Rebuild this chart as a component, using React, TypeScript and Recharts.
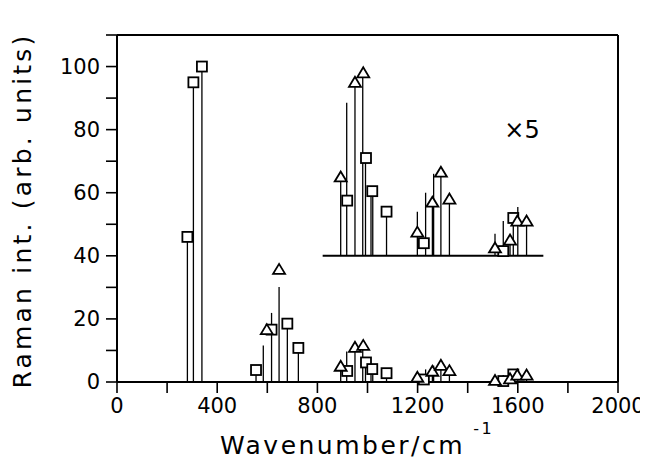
import {
  ComposedChart,
  Scatter,
  XAxis,
  YAxis,
  ReferenceLine,
  ReferenceDot,
  Label,
} from 'recharts';

// observed bands (wavenumber, intensity)
const squareX = [281, 305, 339, 555, 617, 680, 724, 919, 994, 1019, 1076, 1225, 1542, 1582];
const squareY = [46, 95, 100, 3.8, 16.6, 18.5, 10.8, 3.5, 6.2, 4.1, 2.8, 0.8, 0.3, 2.4];
const triangleX = [598, 647, 893, 950, 983, 1199, 1259, 1293, 1327, 1509, 1569, 1598, 1635];
const triangleY = [16.6, 35.7, 5.0, 11.0, 11.6, 1.5, 3.4, 5.3, 3.6, 0.5, 1.0, 2.2, 2.2];

// stick spectrum
const stickX = [281, 305, 339, 555, 584, 617, 647, 680, 724, 893, 917, 950, 981, 992, 1014, 1021, 1076, 1199, 1232, 1259, 1264, 1293, 1327, 1509, 1542, 1569, 1582, 1600, 1635];
const stickH = [46, 95, 100, 3.8, 11.6, 21.9, 30.1, 18.5, 10.8, 5.0, 9.7, 11.0, 11.3, 6.2, 4.1, 4.4, 2.8, 2.8, 4.0, 3.4, 5.2, 5.3, 3.6, 1.4, 2.2, 1.0, 2.4, 3.1, 2.2];

const xTicks = [0, 200, 400, 600, 800, 1000, 1200, 1400, 1600, 1800, 2000];
const xTickLabels = ['0', '400', '800', '1200', '1600', '2000'];
const yTicks = [0, 10, 20, 30, 40, 50, 60, 70, 80, 90, 100, 110];
const yTickLabels = ['0', '20', '40', '60', '80', '100'];

// x5 inset
const insetStart = 821;
const insetEnd = 1702;
const insetBase = 40;
const insetScale = 5;
const insetFrom = 850;

const FONT = 'DejaVu Sans';

function withInset(xs: number[], ys: number[]) {
  const out: { x: number; y: number }[] = [];
  xs.forEach((x, i) => {
    out.push({ x, y: ys[i] });
    if (x >= insetFrom) out.push({ x, y: insetBase + insetScale * ys[i] });
  });
  return out;
}

const squares = withInset(squareX, squareY);
const triangles = withInset(triangleX, triangleY);
const sticks: { x: number; y0: number; y1: number }[] = [];
stickX.forEach((x, i) => {
  sticks.push({ x, y0: 0, y1: stickH[i] });
  if (x >= insetFrom) sticks.push({ x, y0: insetBase, y1: insetBase + insetScale * stickH[i] });
});

const Square = (p: any) => (
  <rect x={p.cx - 5} y={p.cy - 5} width={10} height={10} fill="#fff" stroke="#000" strokeWidth={1.8} />
);

const Triangle = (p: any) => (
  <polygon
    points={`${p.cx - 6},${p.cy + 4.5} ${p.cx + 6},${p.cy + 4.5} ${p.cx},${p.cy - 5.5}`}
    fill="#fff"
    stroke="#000"
    strokeWidth={1.8}
  />
);

export default function App() {
  return (
    <div style={{ width: 640, height: 460 }}>
      <ComposedChart width={640} height={460} margin={{ top: 27, right: 30, bottom: 0, left: 0 }}>
        <XAxis
          type="number"
          dataKey="x"
          domain={[0, 2000]}
          ticks={xTicks}
          tickFormatter={(v: number) => (xTickLabels.includes(String(v)) ? String(v) : '')}
          height={86}
          tickSize={11}
          tickMargin={5}
          axisLine={{ stroke: '#000', strokeWidth: 2 }}
          tickLine={{ stroke: '#000', strokeWidth: 1.6 }}
          tick={{ fill: '#000', fontSize: 21, fontFamily: FONT }}
        >
          <Label
            content={({ viewBox }: any) => {
              const vb = viewBox || { x: 109, y: 374, width: 501, height: 86 };
              return (
                <text
                  x={vb.x + 240}
                  y={vb.y + 72}
                  textAnchor="middle"
                  fontFamily={FONT}
                  fontSize={25}
                  letterSpacing={2.5}
                  fill="#000"
                >
                  Wavenumber/cm
                  <tspan dy={-20} dx={8} fontSize={16}>-1</tspan>
                </text>
              );
            }}
          />
        </XAxis>
        <YAxis
          type="number"
          dataKey="y"
          domain={[0, 110]}
          ticks={yTicks}
          tickFormatter={(v: number) => (yTickLabels.includes(String(v)) ? String(v) : '')}
          width={109}
          tickSize={11}
          tickMargin={6}
          axisLine={{ stroke: '#000', strokeWidth: 2 }}
          tickLine={{ stroke: '#000', strokeWidth: 1.6 }}
          tick={{ fill: '#000', fontSize: 21, fontFamily: FONT }}
        >
          <Label
            content={({ viewBox }: any) => {
              const vb = viewBox || { x: 0, y: 27, width: 109, height: 347 };
              const cx = 14;
              const cy = vb.y + vb.height / 2 + 2;
              return (
                <text
                  x={cx}
                  y={cy}
                  transform={`rotate(-90, ${cx}, ${cy})`}
                  textAnchor="middle"
                  dominantBaseline="central"
                  fontFamily={FONT}
                  fontSize={25}
                  letterSpacing={3.2}
                  fill="#000"
                >
                  Raman int. (arb. units)
                </text>
              );
            }}
          />
        </YAxis>
        <ReferenceLine y={110} stroke="#000" strokeWidth={2} />
        <ReferenceLine x={2000} stroke="#000" strokeWidth={2} />
        <ReferenceLine
          segment={[{ x: insetStart, y: insetBase }, { x: insetEnd, y: insetBase }]}
          stroke="#000"
          strokeWidth={2}
        />
        {sticks.map((s, i) => (
          <ReferenceLine
            key={`stick-${i}`}
            segment={[{ x: s.x, y: s.y0 }, { x: s.x, y: s.y1 }]}
            stroke="#000"
            strokeWidth={1.3}
          />
        ))}
        <Scatter data={squares} shape={Square} isAnimationActive={false} />
        <Scatter data={triangles} shape={Triangle} isAnimationActive={false} />
        <ReferenceDot
          x={1617}
          y={80}
          r={0}
          stroke="none"
          label={{ value: '×5', position: 'center', fontSize: 24, fontFamily: FONT, fill: '#000' }}
        />
      </ComposedChart>
    </div>
  );
}
